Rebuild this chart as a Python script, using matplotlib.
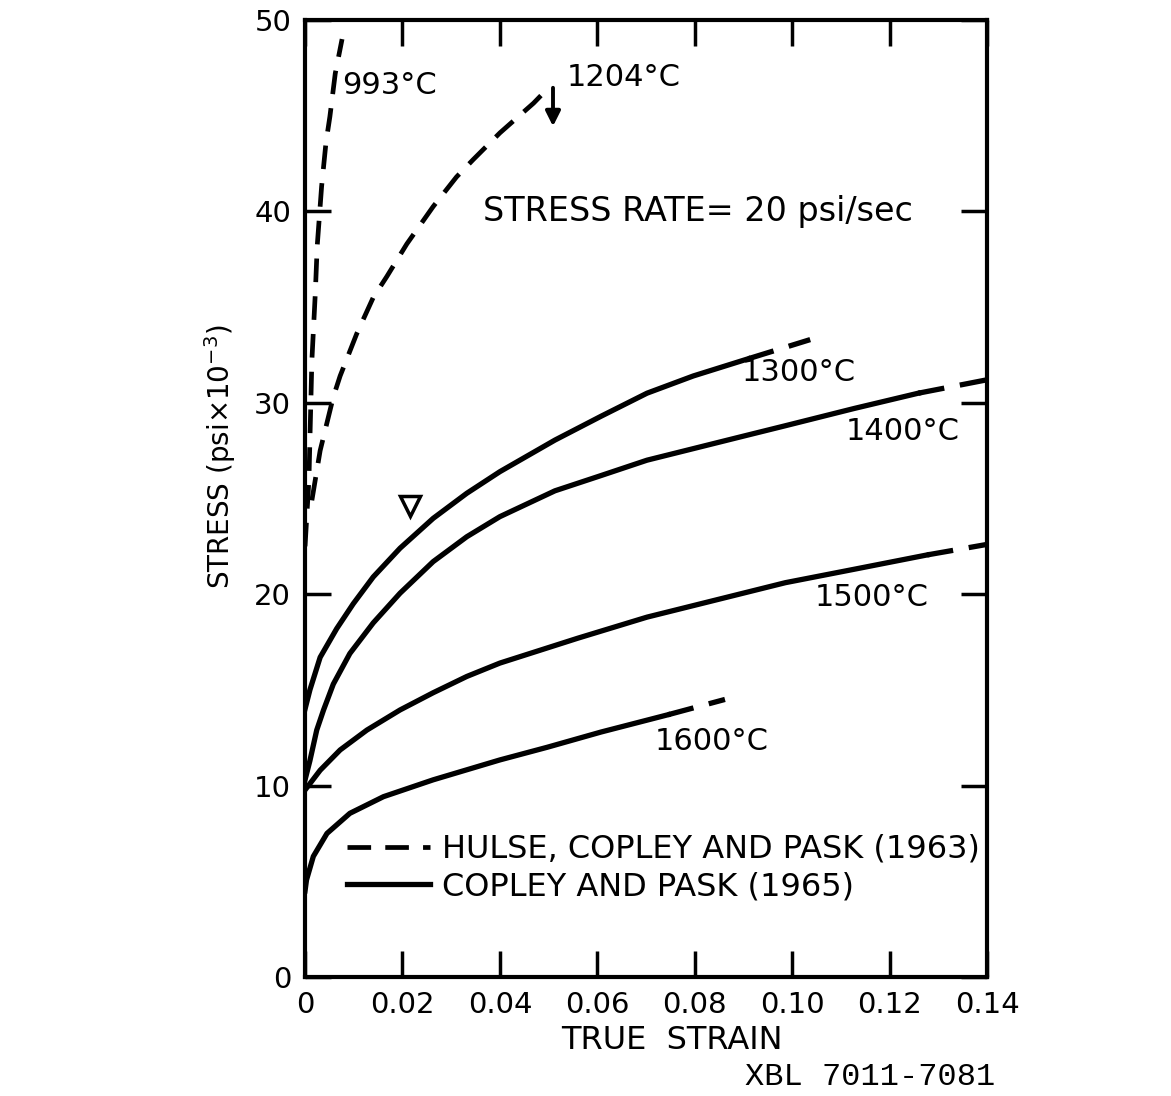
import matplotlib.pyplot as plt
import numpy as np

plt.rcParams['font.family'] = 'DejaVu Sans'

# Copley and Pask (1965) - solid curves, with dashed extrapolated ends
strain_1300 = [0, 0.001, 0.0031, 0.0065, 0.0099, 0.014, 0.0195,
               0.0263, 0.0332, 0.040, 0.0513, 0.0608, 0.0702, 0.0797, 0.091]
stress_1300 = [14.0, 15.0, 16.7, 18.2, 19.5, 20.9, 22.4,
               23.96, 25.27, 26.4, 28.05, 29.3, 30.5, 31.4, 32.3]
strain_1300_ext = [0.091, 0.1037]
stress_1300_ext = [32.3, 33.3]

strain_1400 = [0, 0.001, 0.0024, 0.0038, 0.0058, 0.0092, 0.014,
               0.0195, 0.0263, 0.0332, 0.040, 0.0513, 0.0608, 0.0702, 0.0891, 0.0986,
               0.1127, 0.1259]
stress_1400 = [10.3, 11.3, 12.9, 13.95, 15.3, 16.9, 18.5,
               20.05, 21.7, 23.0, 24.05, 25.4, 26.2, 27.0, 28.2, 28.8,
               29.7, 30.5]
strain_1400_ext = [0.1259, 0.14]
stress_1400_ext = [30.5, 31.2]

strain_1500 = [0, 0.001, 0.0031, 0.0072, 0.0127, 0.0195, 0.0263, 0.0332, 0.040,
               0.056, 0.0702, 0.0844, 0.0986, 0.1127, 0.1277]
stress_1500 = [9.77, 10.1, 10.8, 11.86, 12.9, 13.95, 14.85, 15.7, 16.4,
               17.7, 18.8, 19.7, 20.6, 21.3, 22.05]
strain_1500_ext = [0.1277, 0.14]
stress_1500_ext = [22.05, 22.6]

strain_1600 = [0, 0.0003, 0.0017, 0.0045, 0.0092, 0.0161, 0.0263, 0.040, 0.0497,
               0.0608, 0.0745]
stress_1600 = [4.5, 5.07, 6.3, 7.5, 8.55, 9.42, 10.3, 11.34, 12.0,
               12.8, 13.7]
strain_1600_ext = [0.0745, 0.0862]
stress_1600_ext = [13.7, 14.5]

# Hulse, Copley and Pask (1963) - dashed curves
strain_993 = [0, 0.0008, 0.0014, 0.0021, 0.0025, 0.0034, 0.0043, 0.0051, 0.0062, 0.0076]
stress_993 = [22.5, 26.0, 32.2, 35.7, 38.2, 41.3, 43.6, 44.95, 47.2, 49.0]

strain_1204 = [0.0014, 0.0031, 0.0058, 0.0072, 0.0106, 0.014, 0.0168, 0.0209, 0.0263,
               0.0311, 0.0345, 0.040, 0.0469, 0.049]
stress_1204 = [24.9, 27.5, 30.3, 31.4, 33.6, 35.5, 36.6, 38.3, 40.25,
               41.8, 42.7, 44.1, 45.65, 46.2]

xticks = [0, 0.02, 0.04, 0.06, 0.08, 0.10, 0.12, 0.14]
xtick_labels = ["0", "0.02", "0.04", "0.06", "0.08", "0.10", "0.12", "0.14"]
yticks = [0, 10, 20, 30, 40, 50]

fig = plt.figure(figsize=(11.71, 10.96), dpi=100)
ax = fig.add_axes([0.2605, 0.1086, 0.5824, 0.8732])

dash = (0, (5, 3))
lw = 3.8

ax.plot(strain_993, stress_993, color='black', lw=3.4, linestyle=dash,
        label="HULSE, COPLEY AND PASK (1963)")
ax.plot(strain_1204, stress_1204, color='black', lw=3.4, linestyle=dash)

ax.plot(strain_1300, stress_1300, color='black', lw=lw, label="COPLEY AND PASK (1965)")
ax.plot(strain_1400, stress_1400, color='black', lw=lw)
ax.plot(strain_1500, stress_1500, color='black', lw=lw)
ax.plot(strain_1600, stress_1600, color='black', lw=lw)
for xs, ys in [(strain_1300_ext, stress_1300_ext), (strain_1400_ext, stress_1400_ext),
               (strain_1500_ext, stress_1500_ext), (strain_1600_ext, stress_1600_ext)]:
    ax.plot(xs, ys, color='black', lw=lw, linestyle=dash)

# arrow on the 1204 curve and the little triangle mark
ax.annotate("", xy=(0.0509, 44.3), xytext=(0.0509, 46.6),
            arrowprops=dict(arrowstyle='-|>', color='black', lw=2.8, mutation_scale=22))
ax.plot([0.0216], [24.6], marker='v', ms=15, mfc='none', mec='black', mew=2.5)

ax.text(0.0077, 46.6, "993°C", fontsize=22, va='center', ha='left')
ax.text(0.0538, 47.0, "1204°C", fontsize=22, va='center', ha='left')
ax.text(0.0366, 40.0, "STRESS RATE= 20 psi/sec", fontsize=24, va='center', ha='left')
ax.text(0.0897, 31.6, "1300°C", fontsize=22, va='center', ha='left')
ax.text(0.1109, 28.5, "1400°C", fontsize=22, va='center', ha='left')
ax.text(0.1047, 19.8, "1500°C", fontsize=22, va='center', ha='left')
ax.text(0.0717, 12.3, "1600°C", fontsize=22, va='center', ha='left')

ax.set_xlim(0, 0.14)
ax.set_ylim(0, 50)
ax.set_xticks(xticks)
ax.set_xticklabels(xtick_labels)
ax.set_yticks(yticks)
ax.tick_params(direction='in', length=19, width=2.5, top=True, right=True,
               labelsize=21, pad=10)
for s in ax.spines.values():
    s.set_linewidth(3)

ax.text(-0.125, 0.544, "STRESS (psi\u00d710$^{-3}$)", transform=ax.transAxes,
        rotation=90, fontsize=20, ha='center', va='center')
fig.text(0.574, 0.051, "TRUE  STRAIN", fontsize=23, ha='center', va='center')
fig.text(0.636, 0.0175, "XBL 7011-7081", fontsize=23, family='Liberation Mono',
         ha='left', va='center')

ax.legend(loc='lower left', bbox_to_anchor=(0.02, 0.048), frameon=False,
          fontsize=23, handlelength=2.6, handletextpad=0.35, labelspacing=0.2)

fig.savefig("out.png", dpi=100)
